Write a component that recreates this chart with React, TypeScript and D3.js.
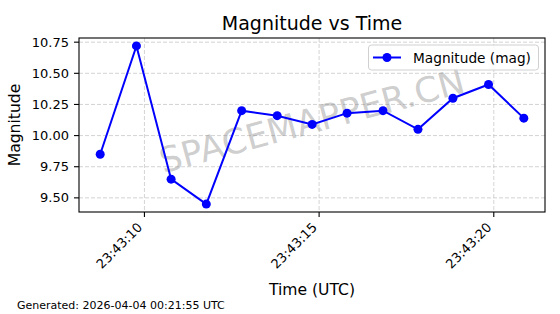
import React from "react";
import * as d3 from "d3";

const times: string[] = [
  "2026-04-03T23:43:08.734Z",
  "2026-04-03T23:43:09.771Z",
  "2026-04-03T23:43:10.763Z",
  "2026-04-03T23:43:11.771Z",
  "2026-04-03T23:43:12.783Z",
  "2026-04-03T23:43:13.800Z",
  "2026-04-03T23:43:14.800Z",
  "2026-04-03T23:43:15.800Z",
  "2026-04-03T23:43:16.830Z",
  "2026-04-03T23:43:17.830Z",
  "2026-04-03T23:43:18.830Z",
  "2026-04-03T23:43:19.850Z",
  "2026-04-03T23:43:20.860Z",
];
const magnitudes: number[] = [9.85, 10.72, 9.65, 9.45, 10.2, 10.16, 10.09, 10.18, 10.2, 10.05, 10.3, 10.41, 10.14];
const yTicks: number[] = [9.5, 9.75, 10.0, 10.25, 10.5, 10.75];
const titleText = "Magnitude vs Time";
const xLabel = "Time (UTC)";
const yLabel = "Magnitude";
const legendLabel = "Magnitude (mag)";
const footerText = "Generated: 2026-04-04 00:21:55 UTC";
const watermark = "SPACEMAPPER.CN";

const W = 560, H = 314;
const L = 79, R = 545, T = 38, B = 212;
const FONT = "DejaVu Sans, sans-serif";
const BLUE = "#0000ff";

function pad(lo: number, hi: number, f = 0.05): [number, number] {
  const d = (hi - lo) * f;
  return [lo - d, hi + d];
}

export default function App() {
  const dates = times.map((t) => new Date(t));
  const tExt = d3.extent(dates.map((d) => d.getTime())) as [number, number];
  const [t0, t1] = pad(tExt[0], tExt[1]);
  const x = d3.scaleUtc().domain([new Date(t0), new Date(t1)]).range([L, R]);
  const yExt = d3.extent(magnitudes) as [number, number];
  const y = d3.scaleLinear().domain(pad(yExt[0], yExt[1])).range([B, T]);
  const xTicks = x.ticks(d3.utcSecond.every(5) as any);
  const fmt = d3.utcFormat("%H:%M:%S");
  const line = d3
    .line<number>()
    .x((_, i) => x(dates[i]))
    .y((v) => y(v));
  const cx = (L + R) / 2, cy = (T + B) / 2;
  const wy = cy - 4;

  return (
    <svg width={W} height={H} style={{ position: "absolute", left: 0, top: 0, background: "#fff" }} fontFamily={FONT}>
      <rect x={0} y={0} width={W} height={H} fill="#fff" />
      {/* grid */}
      {xTicks.map((t, i) => (
        <line key={"gx" + i} x1={x(t)} x2={x(t)} y1={T} y2={B} stroke="#c8c8c8" strokeWidth={0.8} strokeDasharray="4,2" />
      ))}
      {yTicks.map((v, i) => (
        <line key={"gy" + i} x1={L} x2={R} y1={y(v)} y2={y(v)} stroke="#c8c8c8" strokeWidth={0.8} strokeDasharray="4,2" />
      ))}
      {/* watermark */}
      <text
        x={cx}
        y={wy}
        transform={`rotate(-15 ${cx} ${wy})`}
        textAnchor="middle"
        dominantBaseline="central"
        fontSize={35}
        fill="#808080"
        fillOpacity={0.4}
      >
        {watermark}
      </text>
      {/* data */}
      <path d={line(magnitudes) || ""} fill="none" stroke={BLUE} strokeWidth={2} />
      {magnitudes.map((v, i) => (
        <circle key={"p" + i} cx={x(dates[i])} cy={y(v)} r={4.5} fill={BLUE} />
      ))}
      {/* spines */}
      <rect x={L} y={T} width={R - L} height={B - T} fill="none" stroke="#000" strokeWidth={1.1} />
      {/* y ticks */}
      {yTicks.map((v, i) => (
        <g key={"yt" + i}>
          <line x1={L - 5} x2={L} y1={y(v)} y2={y(v)} stroke="#000" strokeWidth={1.1} />
          <text x={L - 10} y={y(v)} textAnchor="end" dominantBaseline="central" fontSize={13}>
            {v.toFixed(2)}
          </text>
        </g>
      ))}
      {/* x ticks */}
      {xTicks.map((t, i) => {
        const px = x(t) - 4.5;
        const py = B + 5 + 3.5 + 4.5;
        return (
          <g key={"xt" + i}>
            <line x1={x(t)} x2={x(t)} y1={B} y2={B + 5} stroke="#000" strokeWidth={1.1} />
            <text
              x={px}
              y={py}
              transform={`rotate(-45 ${px} ${py})`}
              textAnchor="end"
              dominantBaseline="central"
              fontSize={13}
            >
              {fmt(t)}
            </text>
          </g>
        );
      })}
      {/* labels */}
      <text x={cx} y={30} textAnchor="middle" fontSize={19}>
        {titleText}
      </text>
      <text x={cx} y={295} textAnchor="middle" fontSize={15.6}>
        {xLabel}
      </text>
      <text transform={`translate(20 ${cy}) rotate(-90)`} textAnchor="middle" fontSize={15.6}>
        {yLabel}
      </text>
      <text x={17} y={308.5} fontSize={11}>
        {footerText}
      </text>
      {/* legend */}
      <rect x={368.5} y={45} width={170} height={25} rx={3} fill="#fff" fillOpacity={0.8} stroke="#d0d0d0" strokeWidth={1} />
      <line x1={373} x2={401} y1={57.5} y2={57.5} stroke={BLUE} strokeWidth={2} />
      <circle cx={387} cy={57.5} r={4.5} fill={BLUE} />
      <text x={413} y={57.5} dominantBaseline="central" fontSize={13.7}>
        {legendLabel}
      </text>
    </svg>
  );
}
